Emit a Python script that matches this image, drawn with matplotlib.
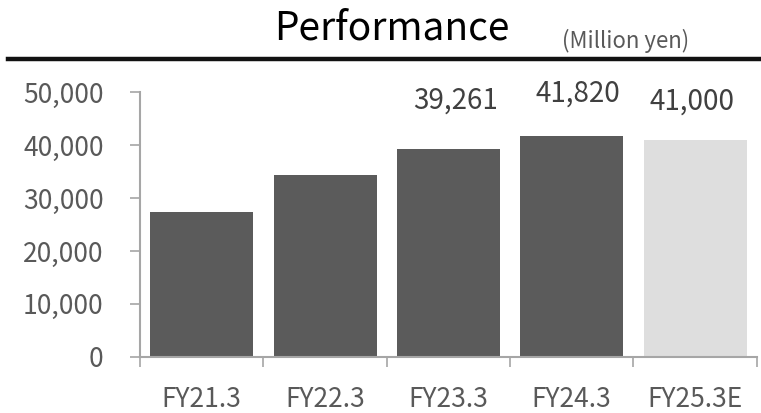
import matplotlib
matplotlib.use("Agg")
import matplotlib.pyplot as plt
from matplotlib.lines import Line2D
from matplotlib.ticker import FuncFormatter, FixedLocator

categories = ["FY21.3", "FY22.3", "FY23.3", "FY24.3", "FY25.3E"]
values = [27400, 34400, 39261, 41820, 41000]
labeled = [False, False, True, True, True]
yticks = [0, 10000, 20000, 30000, 40000, 50000]

bar_colors = ["#5b5b5b", "#5b5b5b", "#5b5b5b", "#5b5b5b", "#dedede"]
label_offsets = [(0, 0), (0, 0), (5, 35), (4.3, 30), (-2.2, 27.5)]

plt.rcParams["font.family"] = ["Noto Sans CJK JP", "DejaVu Sans"]

W, H = 761, 413
fig = plt.figure(figsize=(W / 100, H / 100), dpi=100)
ax = fig.add_axes([140 / W, 56.3 / H, (756.7 - 140) / W, (356.7 - 92.3) / H])

x = list(range(len(categories)))
ax.bar(x, values, width=0.835, color=bar_colors, zorder=2)

ax.set_xlim(-0.5, len(categories) - 0.5)
ax.set_ylim(0, 50000)

spine_c = "#a6a6a6"
for s in ["top", "right"]:
    ax.spines[s].set_visible(False)
for s in ["left", "bottom"]:
    ax.spines[s].set_color(spine_c)
    ax.spines[s].set_linewidth(1.5)

ax.set_yticks(yticks)
ax.yaxis.set_major_formatter(FuncFormatter(lambda v, p: f"{int(v):,}"))
ax.tick_params(axis="y", direction="out", length=7.2, width=1.2, color=spine_c,
               labelsize=19, labelcolor="#595959", pad=19)

ax.xaxis.set_major_locator(FixedLocator([i - 0.5 for i in range(len(categories) + 1)]))
ax.xaxis.set_minor_locator(FixedLocator(x))
ax.set_xticklabels([], minor=False)
ax.set_xticklabels(categories, minor=True)
ax.tick_params(axis="x", which="major", direction="out", length=7.2, width=1.2, color=spine_c)
ax.tick_params(axis="x", which="minor", length=0, labelsize=19, labelcolor="#595959", pad=21)

for i, (v, show) in enumerate(zip(values, labeled)):
    if show:
        dx, dy = label_offsets[i]
        ax.annotate(f"{v:,}", xy=(i, v), xytext=(dx, dy), textcoords="offset points",
                    ha="center", va="center", fontsize=20, color="#404040")

# title and rule
fig.text(391.5 / W, 1 - 40 / H, "Performance", ha="center", va="baseline",
         fontsize=28, color="#000000")
fig.text(626 / W, 1 - 48 / H, "(Million yen)", ha="center", va="baseline",
         fontsize=16, color="#595959")
fig.add_artist(Line2D([8 / W, 1.0], [1 - 59 / H, 1 - 59 / H], transform=fig.transFigure,
                      color="#111111", linewidth=3.2))

fig.savefig("out.png", dpi=100)
